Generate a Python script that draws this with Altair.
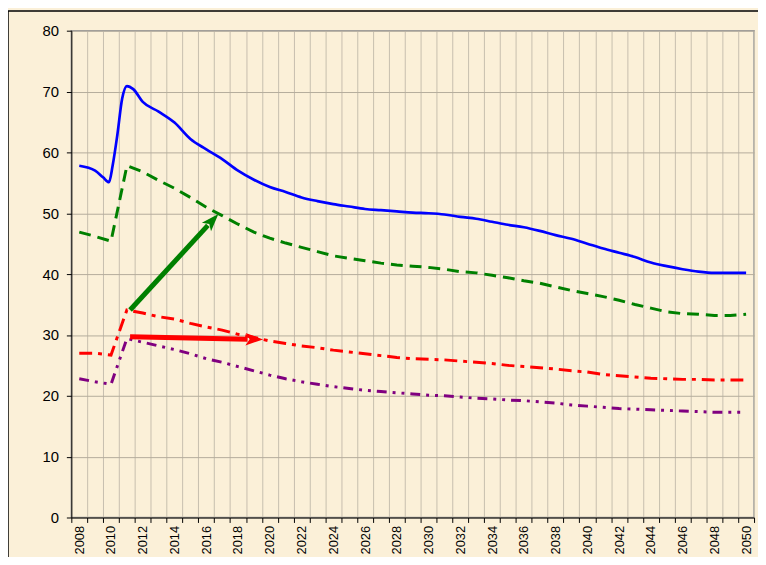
import math
import altair as alt
import pandas as pd

# ---------------- data ----------------
years = list(range(2008, 2051))

blue_years = [2008, 2009, 2009.5, 2009.87, 2010.1, 2010.4, 2010.7, 2011.0, 2011.4,
              2012, 2013, 2014, 2015, 2016, 2017, 2018, 2019, 2020, 2021, 2022,
              2023, 2024, 2025, 2026, 2027, 2028, 2029, 2030, 2031, 2032, 2033,
              2034, 2035, 2036, 2037, 2038, 2039, 2040, 2041, 2042, 2043, 2044,
              2045, 2046, 2047, 2048, 2049, 2050]
blue_vals = [57.8, 57.0, 55.9, 55.1, 57.8, 62.9, 68.8, 70.9, 70.4,
             68.3, 66.7, 64.9, 62.2, 60.5, 58.9, 57.0, 55.5, 54.3, 53.5, 52.6,
             52.0, 51.5, 51.1, 50.7, 50.5, 50.3, 50.1, 50.0, 49.8, 49.4, 49.1,
             48.6, 48.1, 47.7, 47.1, 46.4, 45.8, 45.0, 44.2, 43.5, 42.8, 41.9,
             41.3, 40.8, 40.4, 40.2, 40.2, 40.2]

green_vals = [46.9, 46.2, 45.4, 57.8, 56.8, 55.4, 54.1, 52.6, 51.0, 49.6,
              48.2, 46.9, 45.9, 45.1, 44.4, 43.7, 43.0, 42.6, 42.2, 41.8,
              41.5, 41.3, 41.1, 40.8, 40.4, 40.2, 39.8, 39.4, 38.9, 38.5,
              37.9, 37.3, 36.8, 36.3, 35.7, 35.0, 34.4, 33.8, 33.5, 33.4,
              33.2, 33.2, 33.4]

red_vals = [27.0, 27.0, 26.7, 34.1, 33.6, 33.0, 32.6, 31.9, 31.3, 30.8,
            30.1, 29.6, 29.0, 28.6, 28.2, 27.9, 27.5, 27.2, 26.9, 26.6,
            26.3, 26.1, 26.0, 25.9, 25.7, 25.5, 25.3, 25.0, 24.8, 24.6,
            24.4, 24.1, 23.9, 23.5, 23.3, 23.1, 22.9, 22.8, 22.7, 22.7,
            22.6, 22.6, 22.6]

purple_vals = [22.8, 22.3, 21.9, 29.4, 28.8, 28.2, 27.6, 26.9, 26.1, 25.5,
               24.8, 24.1, 23.4, 22.8, 22.3, 21.9, 21.5, 21.2, 20.9, 20.7,
               20.5, 20.3, 20.1, 20.0, 19.8, 19.6, 19.5, 19.3, 19.2, 19.0,
               18.8, 18.5, 18.3, 18.1, 17.9, 17.8, 17.7, 17.6, 17.5, 17.4,
               17.3, 17.3, 17.3]

# arrows: start (year, value) and end of the shaft (head drawn beyond it)
arrow_names = ["green", "red"]
arrow_x = [2011.2, 2011.2]
arrow_y = [34.1, 29.7]
arrow_x2 = [2016.1, 2018.6]
arrow_y2 = [48.0, 29.3]
arrow_colors = ["#008000", "#FF0000"]

y_ticks = list(range(0, 81, 10))

# ---------------- layout ----------------
W, H = 690, 492
XMIN, XMAX = 2007.5, 2050.5
bounds = [XMIN + k for k in range(int(XMAX - XMIN) + 1)]
px_per_year = W / (XMAX - XMIN)
px_per_unit = H / 80.0

BG = "#FBF0D8"
FONT = "Liberation Sans"

X_SCALE = alt.Scale(domain=[XMIN, XMAX], nice=False, zero=False)
Y_SCALE = alt.Scale(domain=[0, 80], nice=False, zero=False)

X_AXIS = alt.Axis(
    values=bounds,
    labelExpr="((datum.value + 0.5) % 2 == 0) ? format(datum.value + 0.5, 'd') : ''",
    labelOffset=px_per_year / 2,
    labelAngle=270,
    labelOverlap=False,
    labelFlush=False,
    labelPadding=3,
    labelFont=FONT,
    labelFontSize=13,
    labelColor="black",
    tickSize=5,
    tickColor="black",
    domainColor="black",
    grid=True,
    gridColor="#C6BEAE",
    gridWidth=1,
    title=None,
)
Y_AXIS = alt.Axis(
    values=y_ticks,
    labelPadding=8,
    labelFont=FONT,
    labelFontSize=15,
    labelColor="black",
    tickSize=5,
    tickColor="black",
    domainColor="black",
    grid=True,
    gridColor="#B4AC9C",
    gridWidth=1,
    title=None,
)

X = alt.X("x:Q", scale=X_SCALE, axis=X_AXIS)
Y = alt.Y("y:Q", scale=Y_SCALE, axis=Y_AXIS)

blue_df = pd.DataFrame({"x": blue_years, "y": blue_vals})
green_df = pd.DataFrame({"x": years, "y": green_vals})
red_df = pd.DataFrame({"x": years, "y": red_vals})
purple_df = pd.DataFrame({"x": years, "y": purple_vals})

frame = alt.Chart(pd.DataFrame({"a": [0]})).mark_rect(
    filled=False, stroke="black", strokeWidth=1.5
).encode(
    x=alt.value(-64), x2=alt.value(W + 80), y=alt.value(-20), y2=alt.value(H + 120)
)

purple = alt.Chart(purple_df).mark_line(
    color="#800080", strokeWidth=3, strokeDash=[10, 6, 3, 6, 3, 6]
).encode(x=X, y=Y)
red = alt.Chart(red_df).mark_line(
    color="#FF0000", strokeWidth=3, strokeDash=[13, 6, 4, 6]
).encode(x=X, y=Y)
green = alt.Chart(green_df).mark_line(
    color="#008000", strokeWidth=3, strokeDash=[12, 7]
).encode(x=X, y=Y)
blue = alt.Chart(blue_df).mark_line(
    color="#0000FF", strokeWidth=2.7, interpolate="monotone"
).encode(x=X, y=Y)

angles = []
for x1, y1, x2, y2 in zip(arrow_x, arrow_y, arrow_x2, arrow_y2):
    dx = (x2 - x1) * px_per_year
    dy = (y2 - y1) * px_per_unit
    angles.append((math.degrees(math.atan2(dx, dy)) + 360) % 360)

shaft_df = pd.DataFrame({
    "name": arrow_names, "x": arrow_x, "y": arrow_y,
    "x2": arrow_x2, "y2": arrow_y2, "color": arrow_colors,
})
head_df = pd.DataFrame({
    "name": arrow_names, "x": arrow_x2, "y": arrow_y2,
    "color": arrow_colors, "angle": angles,
})

shafts = alt.Chart(shaft_df).mark_rule(strokeWidth=5).encode(
    x=X, y=Y, x2="x2:Q", y2="y2:Q",
    color=alt.Color("color:N", scale=None),
)
heads = alt.Chart(head_df).mark_point(
    shape="M0,-3 L1.2,0.4 L0,-0.4 L-1.2,0.4 Z", filled=True, opacity=1, size=110, strokeWidth=0
).encode(
    x=X, y=Y,
    color=alt.Color("color:N", scale=None),
    angle=alt.Angle("angle:Q", scale=None),
)

chart = alt.layer(frame, purple, red, green, blue, shafts, heads).properties(
    width=W,
    height=H,
    autosize=alt.AutoSizeParams(type="none"),
    padding={"left": 64, "top": 20, "right": 4, "bottom": 37},
    background=BG,
).configure_view(
    fill=BG, stroke="#9A9A9A", strokeWidth=1.5
)

chart.save("out.html", embed_options={"renderer": "svg", "actions": False})
